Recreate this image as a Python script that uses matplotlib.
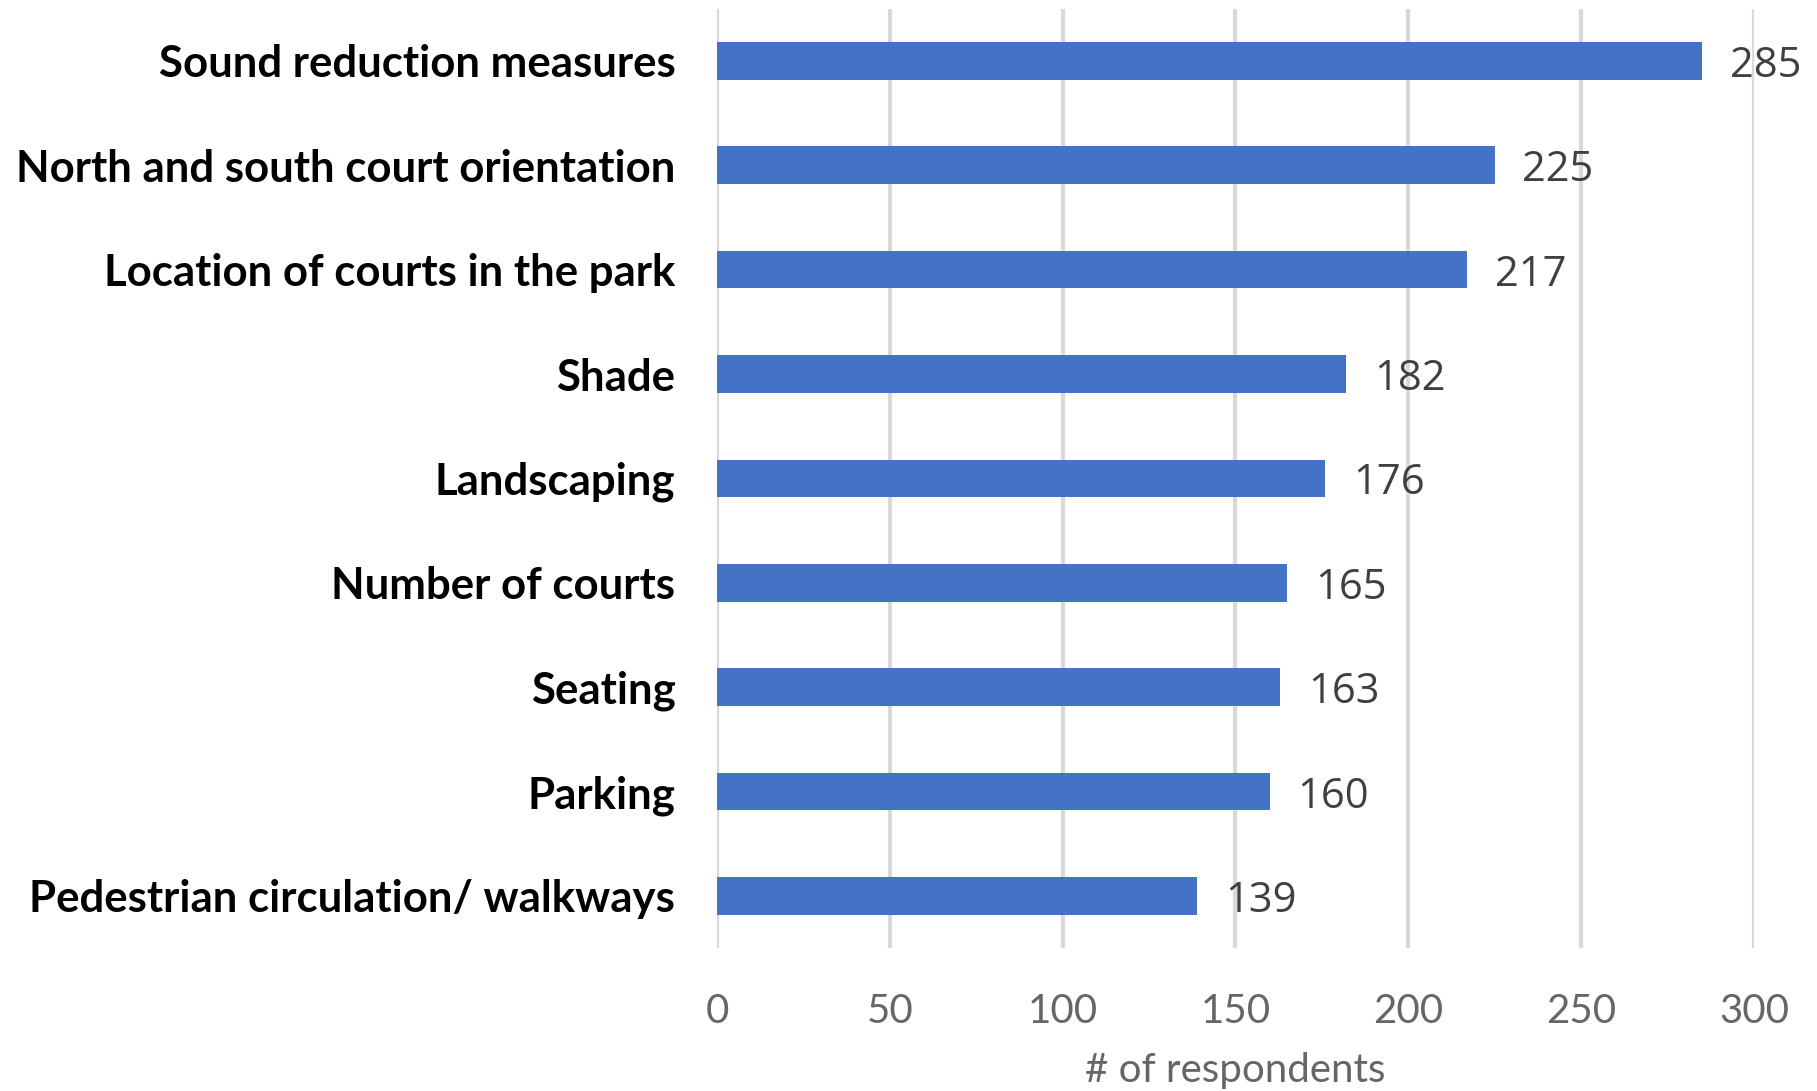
import matplotlib
matplotlib.use("Agg")
import matplotlib.pyplot as plt

# data, top to bottom as in the chart
categories = ["Sound reduction measures", "North and south court orientation",
              "Location of courts in the park", "Shade", "Landscaping",
              "Number of courts", "Seating", "Parking",
              "Pedestrian circulation/ walkways"]
respondents = [285, 225, 217, 182, 176, 165, 163, 160, 139]
xticks = [0, 50, 100, 150, 200, 250, 300]

fig = plt.figure(figsize=(18.17, 10.91), dpi=100)
ax = fig.add_axes([0.3946, 0.131, 0.5707, 0.861])

ypos = list(range(len(categories)))
ax.barh(ypos, respondents, height=0.36, color="#4472C4", zorder=3)

for y, v in zip(ypos, respondents):
    ax.text(v + 8, y, str(v), va="center_baseline", ha="left", fontsize=30,
            family="Open Sans", color="#404040", zorder=4)

ax.set_xlim(0, 300)
ax.set_ylim(len(categories) - 0.5, -0.5)
ax.set_xticks(xticks)
ax.set_xticklabels([str(t) for t in xticks], family="Lato", fontweight="normal",
                   fontsize=29, color="#666666")
ax.set_yticks(ypos)
ax.set_yticklabels(categories, family="Lato", fontweight="bold", fontsize=31.5,
                   color="black")
ax.tick_params(axis="x", length=0, pad=32)
ax.tick_params(axis="y", length=0, pad=30)
ax.grid(axis="x", color="#D9D9D9", linewidth=3, zorder=0)
for s in ax.spines.values():
    s.set_visible(False)

ax.set_xlabel("# of respondents", family="Lato", fontweight="normal",
              fontsize=29, color="#666666", labelpad=16)

fig.savefig("out.png", dpi=100)
